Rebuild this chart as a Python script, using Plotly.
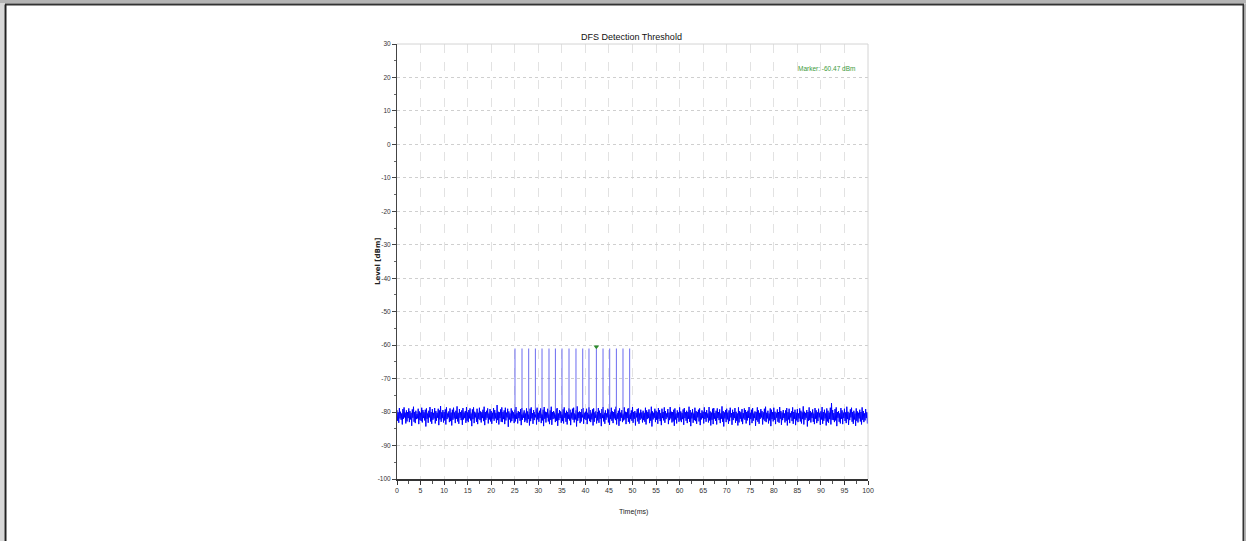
import plotly.graph_objects as go

# ---------------- data ----------------
time_start_ms = 0.0
time_step_ms = 0.125
noise_level_dbm = [
    -79.4,-82.6,-80.1,-83.2,-78.8,-81.9,-79.9,-82.3,-80.4,-83.7,-79.1,-82.0,-78.6,-81.6,-80.2,-83.4,-79.5,-82.8,-80.0,-81.8,
    -78.9,-83.0,-79.7,-82.2,-80.3,-84.1,-79.2,-81.7,-78.4,-82.9,-80.0,-83.3,-79.6,-82.1,-80.5,-81.9,-79.0,-83.6,-79.8,-82.4,
    -80.2,-82.7,-78.7,-83.1,-79.4,-81.8,-80.1,-82.5,-79.3,-84.3,-78.9,-82.0,-80.4,-83.2,-79.6,-81.6,-78.5,-82.8,-80.0,-83.5,
    -79.1,-82.3,-80.3,-81.9,-78.8,-83.4,-79.7,-82.6,-80.2,-81.7,-79.0,-83.9,-79.5,-82.2,-78.2,-82.9,-80.1,-81.8,-79.4,-83.1,
    -80.0,-82.5,-79.2,-83.7,-78.6,-82.1,-80.4,-81.6,-79.8,-83.0,-78.9,-82.7,-80.2,-84.0,-79.3,-82.3,-78.7,-81.9,-80.1,-83.3,
    -79.6,-82.0,-78.3,-82.8,-80.3,-83.5,-79.1,-81.7,-80.0,-82.4,-79.5,-83.8,-78.8,-82.2,-80.2,-81.8,-79.7,-83.2,-78.5,-82.6,
    -80.1,-83.0,-79.4,-81.9,-78.9,-82.5,-80.4,-84.2,-79.2,-82.1,-78.6,-83.3,-79.9,-81.6,-80.3,-82.9,-79.0,-83.6,-80.2,-82.0,
    -78.7,-82.4,-79.8,-83.1,-80.1,-81.8,-79.3,-82.7,-78.4,-83.9,-80.0,-82.3,-79.6,-81.7,-78.9,-83.4,-80.4,-82.2,-79.1,-82.8,
    -79.7,-83.5,-80.2,-82.0,-78.8,-82.6,-79.4,-81.9,-80.3,-83.2,-77.9,-82.4,-79.9,-83.7,-80.1,-81.8,-79.2,-82.9,-78.6,-83.0,
    -80.0,-82.1,-79.5,-83.6,-78.7,-82.5,-80.2,-81.6,-79.0,-84.4,-79.8,-82.2,-80.4,-83.1,-78.9,-82.7,-79.6,-81.9,-80.1,-83.3,
    -79.3,-82.8,-78.5,-82.0,-80.3,-83.4,-79.7,-81.8,-80.0,-82.6,-79.1,-83.9,-78.8,-82.3,-80.2,-81.7,-79.5,-83.0,-80.4,-82.5,
    -78.9,-83.2,-79.8,-82.1,-80.1,-84.0,-79.0,-82.7,-78.6,-81.9,-80.3,-83.5,-79.4,-82.4,-80.0,-81.6,-79.2,-83.7,-78.7,-82.2,
    -80.2,-82.9,-79.6,-81.8,-78.9,-83.3,-80.4,-82.5,-79.3,-84.2,-78.5,-82.0,-79.9,-83.1,-80.1,-81.7,-79.0,-82.8,-80.3,-83.6,
    -79.5,-82.3,-78.4,-83.8,-80.0,-82.1,-79.7,-81.9,-80.2,-83.0,-79.1,-82.6,-78.8,-84.1,-80.4,-82.4,-79.4,-81.8,-79.8,-83.2,
    -80.1,-82.7,-79.2,-83.4,-78.6,-81.7,-80.3,-82.9,-79.6,-83.7,-80.0,-82.0,-78.9,-82.5,-79.3,-83.9,-80.2,-81.9,-79.0,-82.3,
    -78.7,-83.1,-80.4,-82.2,-79.5,-84.3,-78.3,-82.6,-80.1,-81.8,-79.8,-83.3,-80.0,-82.8,-79.1,-81.6,-78.8,-83.5,-80.3,-82.1,
    -79.9,-82.4,-79.0,-83.6,-80.2,-81.9,-78.6,-82.7,-79.4,-83.0,-80.4,-82.2,-79.2,-84.0,-78.9,-82.9,-80.1,-81.7,-79.7,-83.4,
    -80.0,-82.5,-78.8,-83.2,-79.6,-82.0,-80.3,-84.2,-79.1,-81.8,-78.5,-82.8,-80.2,-83.5,-79.5,-82.3,-80.4,-81.6,-79.0,-83.1,
    -79.3,-83.8,-80.1,-82.1,-78.7,-82.6,-79.8,-83.3,-80.0,-81.9,-79.2,-82.4,-78.4,-83.7,-80.3,-82.0,-79.6,-84.1,-78.9,-82.7,
    -80.2,-81.7,-79.4,-83.0,-80.4,-82.5,-78.6,-82.2,-79.9,-83.6,-80.1,-81.8,-79.0,-82.9,-78.8,-83.4,-80.3,-82.1,-79.5,-82.6,
    -78.5,-83.2,-80.0,-82.0,-79.7,-84.0,-80.2,-81.6,-79.1,-82.8,-78.9,-83.5,-80.4,-82.3,-79.3,-81.9,-80.1,-83.1,-79.6,-82.4,
    -80.3,-82.9,-78.7,-83.7,-79.5,-82.1,-80.0,-81.8,-79.2,-83.3,-80.4,-82.6,-78.4,-84.3,-79.8,-82.2,-80.2,-81.7,-79.0,-83.0,
    -79.6,-82.3,-80.1,-83.5,-78.8,-82.0,-79.4,-82.7,-80.3,-83.9,-79.0,-81.8,-80.0,-82.5,-78.6,-83.2,-79.7,-82.1,-80.4,-81.6,
    -79.1,-83.6,-80.2,-82.4,-78.5,-81.9,-79.9,-83.1,-80.0,-82.8,-79.3,-84.1,-78.9,-82.2,-80.4,-83.4,-79.5,-81.7,-80.1,-82.9,
    -78.6,-82.5,-79.8,-83.0,-80.3,-82.1,-79.2,-83.8,-78.8,-81.8,-80.1,-82.6,-79.6,-83.3,-80.0,-82.0,-78.4,-82.9,-79.4,-84.2,
    -80.2,-81.9,-79.1,-83.2,-80.4,-82.4,-78.7,-82.7,-79.7,-83.5,-80.0,-81.6,-79.3,-82.8,-78.9,-83.9,-80.3,-82.2,-79.5,-81.8,
    -79.9,-83.4,-78.6,-82.1,-80.1,-82.9,-79.4,-81.7,-80.4,-83.1,-78.5,-82.5,-79.8,-84.0,-80.2,-82.3,-79.0,-83.6,-78.8,-82.0,
    -80.3,-82.6,-79.6,-83.7,-78.9,-81.8,-80.0,-82.4,-79.2,-83.3,-80.4,-82.0,-78.3,-82.9,-79.7,-84.3,-80.1,-81.9,-79.4,-83.0,
    -79.0,-82.2,-80.2,-83.5,-79.5,-82.7,-78.7,-81.6,-80.3,-83.8,-79.3,-82.4,-80.0,-81.8,-78.8,-83.2,-79.9,-82.6,-80.4,-84.0,
    -78.6,-83.1,-79.7,-82.0,-80.1,-82.8,-79.1,-83.6,-80.3,-81.9,-78.9,-82.3,-79.4,-83.4,-80.0,-82.5,-79.6,-81.7,-78.5,-83.9,
    -80.2,-82.1,-79.3,-83.3,-78.8,-82.6,-80.4,-81.8,-79.8,-84.1,-80.0,-82.4,-78.6,-82.9,-79.5,-83.5,-80.3,-82.0,-79.1,-81.6,
    -79.7,-83.7,-80.1,-82.2,-79.0,-82.7,-78.4,-83.0,-80.2,-81.9,-79.6,-83.4,-80.4,-82.5,-78.9,-84.2,-79.3,-82.1,-80.0,-82.8,
    -78.7,-82.3,-79.9,-83.6,-80.3,-81.7,-79.2,-82.9,-80.0,-83.2,-78.5,-82.0,-79.7,-83.8,-80.2,-82.4,-79.4,-81.8,-80.4,-83.1,
    -79.5,-82.6,-78.8,-84.0,-80.1,-82.2,-79.0,-83.3,-80.3,-81.6,-79.8,-82.7,-78.6,-83.5,-80.0,-82.0,-79.3,-83.9,-80.2,-82.5,
    -79.1,-83.0,-80.4,-81.9,-78.9,-82.8,-79.6,-83.4,-80.1,-82.1,-78.3,-83.7,-79.9,-82.3,-80.3,-81.7,-79.4,-84.3,-80.0,-82.6,
    -78.6,-82.4,-79.7,-83.1,-80.2,-81.8,-79.2,-82.9,-80.4,-83.6,-78.8,-82.0,-79.5,-83.3,-80.1,-82.7,-79.0,-81.6,-80.3,-83.8,
    -79.8,-82.2,-78.5,-83.5,-80.0,-82.6,-79.3,-81.9,-80.4,-84.0,-78.9,-82.8,-79.6,-83.2,-80.2,-82.1,-78.7,-83.7,-77.3,-82.3,
    -79.4,-82.4,-80.3,-83.0,-79.1,-82.5,-78.6,-84.2,-80.0,-81.7,-79.7,-82.9,-80.4,-83.4,-78.8,-82.0,-79.5,-83.6,-80.2,-81.8,
    -79.0,-82.7,-80.1,-83.3,-78.4,-82.1,-79.9,-83.8,-80.3,-82.4,-79.2,-81.6,-78.7,-82.9,-80.0,-83.5,-79.6,-82.2,-80.4,-84.1,
    -78.9,-82.6,-79.8,-83.1,-80.2,-81.9,-79.3,-82.8,-80.0,-83.7,-78.6,-82.3,-79.7,-83.0,-80.4,-82.5,-79.1,-81.8,-80.1,-83.4,
    -80.2,
]
noise_floor_dbm = -80.7
pulse_times_ms = [25.05, 26.54, 27.96, 29.38, 30.79, 32.27, 33.63, 35.03, 36.52,
                  38.00, 39.43, 40.76, 42.33, 43.74, 45.16, 46.58, 47.98, 49.40]
pulse_levels_dbm = [-61.0, -61.0, -61.0, -61.0, -61.0, -61.0, -61.0, -61.0, -61.0,
                    -61.0, -61.0, -61.0, -61.0, -61.0, -61.0, -61.0, -61.0, -61.0]
marker_time_ms = 42.33
marker_level_dbm = -60.47
x_ticks = [0, 5, 10, 15, 20, 25, 30, 35, 40, 45, 50, 55, 60, 65, 70, 75, 80, 85, 90, 95, 100]
y_ticks = [30, 20, 10, 0, -10, -20, -30, -40, -50, -60, -70, -80, -90, -100]

time_ms = [time_start_ms + i * time_step_ms for i in range(len(noise_level_dbm))]

spike_x, spike_y = [], []
for t, lv in zip(pulse_times_ms, pulse_levels_dbm):
    spike_x += [t, t, None]
    spike_y += [noise_floor_dbm, lv, None]

# ---------------- layout geometry ----------------
W, H = 1246, 541
L, R, T, B = 397, 868, 44, 479


def px(xp):
    return (xp - L) / (R - L)


def py(yp):
    return (B - yp) / (B - T)


FONT = "Liberation Sans Narrow, Liberation Sans, Arial, sans-serif"

fig = go.Figure()
fig.add_trace(go.Scatter(x=time_ms, y=noise_level_dbm, mode="lines",
                         line=dict(color="#0000ff", width=1), hoverinfo="skip"))
fig.add_trace(go.Scatter(x=spike_x, y=spike_y, mode="lines",
                         line=dict(color="#6b6bf0", width=1), hoverinfo="skip"))
fig.add_trace(go.Scatter(x=[marker_time_ms], y=[marker_level_dbm], mode="markers",
                         marker=dict(symbol="triangle-down", size=5, color="#2e8b2e"),
                         hoverinfo="skip"))

grid_y = "#cfcfcf"
grid_x = "#e2e2e2"

fig.update_layout(
    width=W, height=H,
    margin=dict(l=L, r=W - R, t=T, b=H - B),
    paper_bgcolor="white", plot_bgcolor="white",
    showlegend=False,
    font=dict(family=FONT, size=7, color="#222"),
    xaxis=dict(range=[0, 100], tickvals=x_ticks, ticktext=[str(v) for v in x_ticks],
               showgrid=True, gridcolor=grid_x, griddash="dash", gridwidth=1,
               showline=True, linecolor="#333", linewidth=1.5,
               ticks="outside", ticklen=4, tickcolor="#333", tickwidth=1,
               minor=dict(dtick=2.5, ticks="outside", ticklen=3, tickcolor="#555", showgrid=False),
               tickfont=dict(size=7, family=FONT, color="#333"), zeroline=False),
    yaxis=dict(range=[-100, 30], tickvals=y_ticks, ticktext=[str(v) for v in y_ticks],
               showgrid=True, gridcolor=grid_y, griddash="dot", gridwidth=1,
               showline=True, linecolor="#444", linewidth=1,
               ticks="outside", ticklen=4, tickcolor="#444", tickwidth=1,
               minor=dict(dtick=5, ticks="outside", ticklen=2, tickcolor="#666", showgrid=False),
               tickfont=dict(size=6.5, family=FONT, color="#333"), zeroline=False),
    annotations=[
        dict(text="DFS Detection Threshold", xref="paper", yref="paper",
             x=px(631), y=py(37), xanchor="center", yanchor="middle", showarrow=False,
             font=dict(size=9, family=FONT, color="#111")),
        dict(text="Marker: -60.47 dBm", xref="paper", yref="paper",
             x=px(826), y=py(68), xanchor="center", yanchor="middle", showarrow=False,
             font=dict(size=6.5, family=FONT, color="#3a9a3a")),
        dict(text="<b>Level [dBm]</b>", xref="paper", yref="paper",
             x=px(378), y=py(262), xanchor="center", yanchor="middle", showarrow=False,
             textangle=-90, font=dict(size=7, family="DejaVu Sans, sans-serif", color="#222")),
        dict(text="Time(ms)", xref="paper", yref="paper",
             x=px(633), y=py(512), xanchor="center", yanchor="middle", showarrow=False,
             font=dict(size=7, family=FONT, color="#222")),
    ],
    shapes=[
        # light plot-area border (top, right)
        dict(type="line", xref="paper", yref="paper", x0=0, x1=1, y0=1, y1=1,
             line=dict(color="#d4d4d4", width=1)),
        dict(type="line", xref="paper", yref="paper", x0=1, x1=1, y0=0, y1=1,
             line=dict(color="#d4d4d4", width=1)),
        # outer window frame
        dict(type="rect", xref="paper", yref="paper", x0=px(0), x1=px(W), y0=py(0), y1=py(3.5),
             fillcolor="#b4b4b4", line=dict(width=0), layer="above"),
        dict(type="line", xref="paper", yref="paper", x0=px(5), x1=px(1244), y0=py(4.5), y1=py(4.5),
             line=dict(color="#333", width=2), layer="above"),
        dict(type="rect", xref="paper", yref="paper", x0=px(0), x1=px(4.5), y0=py(3.5), y1=py(H),
             fillcolor="#d8d8d8", line=dict(width=0), layer="above"),
        dict(type="line", xref="paper", yref="paper", x0=px(5.5), x1=px(5.5), y0=py(4.5), y1=py(H),
             line=dict(color="#222", width=2), layer="above"),
        dict(type="line", xref="paper", yref="paper", x0=px(1243.5), x1=px(1243.5), y0=py(4.5), y1=py(H),
             line=dict(color="#333", width=2), layer="above"),
        dict(type="rect", xref="paper", yref="paper", x0=px(1244.5), x1=px(W), y0=py(3.5), y1=py(H),
             fillcolor="#b4b4b4", line=dict(width=0), layer="above"),
    ],
)

fig.write_html("out.html",
               config={"displayModeBar": False, "staticPlot": True},
               post_script="document.body.style.margin='0px';document.body.style.overflow='hidden';")
